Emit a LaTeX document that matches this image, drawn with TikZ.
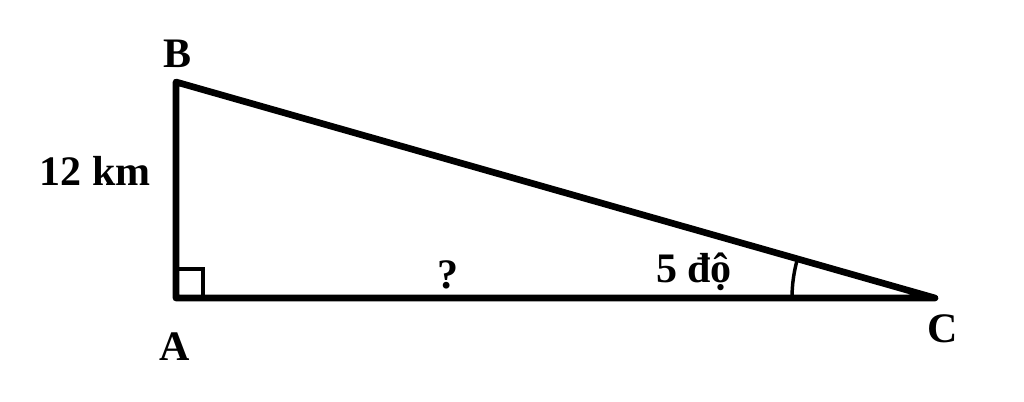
\documentclass[tikz,border=0pt]{standalone}
\usepackage{fontspec}
\setmainfont{Liberation Serif}
\usetikzlibrary{calc}
\begin{document}
\begin{tikzpicture}[x=0.75pt,y=-0.75pt,
  side/.style={line width=5pt,line cap=round,line join=round},
  anglemark/.style={line width=2.6pt},
  lbl/.style={font=\fontsize{31.5}{36}\selectfont\bfseries,anchor=base,inner sep=0pt}]
\useasboundingbox (0,0) rectangle (1024,401);
\fill[white] (0,0) rectangle (1024,401);
\coordinate (A) at (176,298);
\coordinate (B) at (176,82);
\coordinate (C) at (935,298);
\draw[side] (B) -- (A) -- (C) -- cycle;
\draw[anglemark] (176,269) -- (203,269) -- (203,298);
\draw[anglemark] ($(C)+(-143,0)$) arc[start angle=180,end angle=196,radius=143];
\node[lbl] (lB) at (178,67) {B};
\node[lbl] (lA) at (175,360) {A};
\node[lbl] (lC) at (943,342) {C};
\node[lbl] (l12) at (95,185) {12 km};
\node[lbl] (lq) at (448,288) {?};
\node[lbl] (lang) at (694,282) {5 độ};
\end{tikzpicture}
\end{document}
